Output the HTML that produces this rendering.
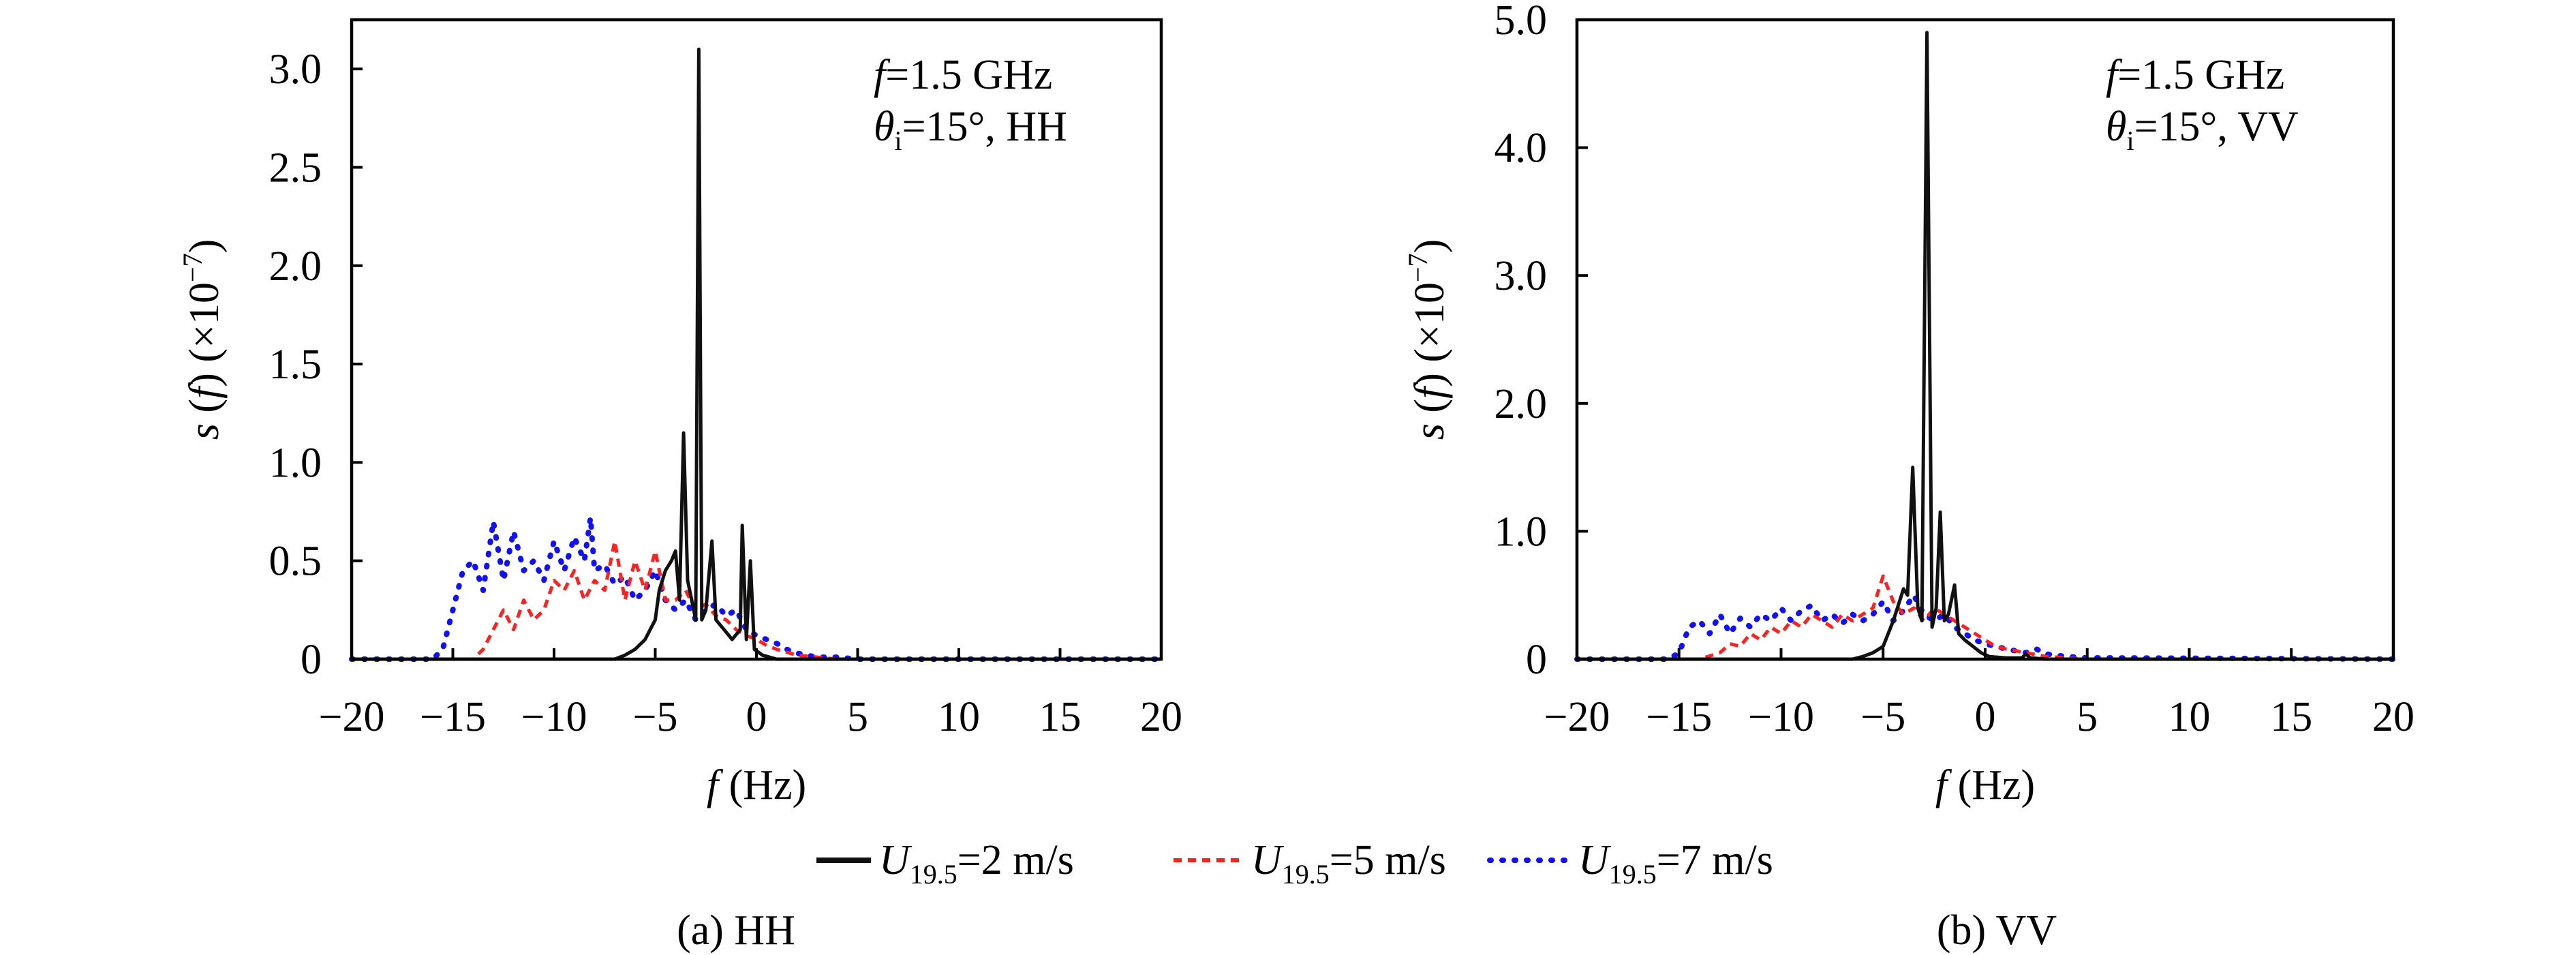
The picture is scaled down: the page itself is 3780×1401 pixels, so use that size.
<!DOCTYPE html>
<html><head><meta charset="utf-8">
<style>
html,body{margin:0;padding:0;background:#fff;}
svg{display:block;font-family:"Liberation Serif","DejaVu Serif",serif;}
</style></head>
<body>
<svg id="fig" width="3780" height="1401" viewBox="0 0 3780 1401" xmlns="http://www.w3.org/2000/svg"></svg>
<script>
// ---- data ----
const xTicks = [-20,-15,-10,-5,0,5,10,15,20];
const yTicksHH = [0,0.5,1.0,1.5,2.0,2.5,3.0];
const yTickLabelsHH = ["0","0.5","1.0","1.5","2.0","2.5","3.0"];
const yTicksVV = [0,1,2,3,4,5];
const yTickLabelsVV = ["0","1.0","2.0","3.0","4.0","5.0"];

const hh2x = [-20,-7,-6.5,-6,-5.5,-5,-4.8,-4.5,-4.2,-4.0,-3.8,-3.6,-3.4,-3.2,-3.0,-2.85,-2.7,-2.5,-2.2,-2.0,-1.6,-1.2,-0.8,-0.7,-0.5,-0.3,-0.1,0.3,1,20];
const hh2y = [0,0,0.02,0.05,0.1,0.2,0.35,0.45,0.5,0.55,0.3,1.15,0.4,0.3,0.2,3.1,0.2,0.25,0.6,0.2,0.15,0.1,0.15,0.68,0.1,0.5,0.05,0.02,0,0];
const hh5x = [-20,-14,-13.5,-13,-12.5,-12,-11.5,-11,-10.5,-10,-9.5,-9,-8.5,-8,-7.5,-7,-6.5,-6,-5.5,-5,-4.5,-4,-3.5,-3,-2.5,-2,-1.5,-1,-0.5,0,0.5,1,2,3,4,20];
const hh5y = [0,0,0.05,0.15,0.25,0.15,0.3,0.2,0.25,0.4,0.35,0.45,0.3,0.4,0.35,0.6,0.3,0.5,0.35,0.55,0.3,0.3,0.35,0.25,0.28,0.22,0.2,0.15,0.12,0.1,0.07,0.05,0.02,0.01,0,0];
const hh7x = [-20,-16,-15.5,-15,-14.5,-14,-13.5,-13,-12.5,-12,-11.5,-11,-10.5,-10,-9.5,-9,-8.5,-8.2,-8,-7.5,-7,-6.5,-6,-5.5,-5,-4.5,-4,-3.5,-3,-2.5,-2,-1.5,-1,-0.5,0,0.5,1,1.5,2,3,4,5,20];
const hh7y = [0,0,0.05,0.25,0.45,0.5,0.35,0.7,0.4,0.65,0.45,0.5,0.4,0.6,0.45,0.62,0.5,0.72,0.45,0.48,0.38,0.42,0.3,0.35,0.45,0.3,0.25,0.3,0.2,0.25,0.28,0.22,0.25,0.15,0.12,0.1,0.08,0.05,0.03,0.01,0.01,0,0];

const vv2x = [-20,-6.5,-6,-5.5,-5,-4.5,-4.2,-4,-3.8,-3.55,-3.3,-3.1,-2.85,-2.6,-2.4,-2.2,-2.0,-1.8,-1.5,-1.3,-1,-0.6,-0.2,0.2,1,1.8,2,2.2,3,20];
const vv2y = [0,0,0.02,0.05,0.1,0.3,0.45,0.55,0.5,1.5,0.4,0.3,4.9,0.25,0.4,1.15,0.3,0.35,0.58,0.2,0.15,0.1,0.05,0.02,0.01,0.01,0.04,0.01,0,0];
const vv5x = [-20,-14,-13,-12.5,-12,-11.5,-11,-10.5,-10,-9.5,-9,-8.5,-8,-7.5,-7,-6.5,-6,-5.5,-5,-4.5,-4,-3.5,-3,-2.5,-2,-1.5,-1,-0.5,0,0.5,1,2,3,4,5,20];
const vv5y = [0,0,0.05,0.12,0.1,0.2,0.15,0.25,0.2,0.3,0.25,0.35,0.3,0.25,0.35,0.3,0.35,0.4,0.65,0.45,0.35,0.4,0.3,0.4,0.35,0.3,0.25,0.2,0.15,0.1,0.08,0.05,0.02,0.01,0,0];
const vv7x = [-20,-15.5,-15,-14.5,-14,-13.5,-13,-12.5,-12,-11.5,-11,-10.5,-10,-9.5,-9,-8.5,-8,-7.5,-7,-6.5,-6,-5.5,-5,-4.5,-4,-3.5,-3,-2.5,-2,-1.5,-1,-0.5,0,0.5,1,2,2.5,3,4,5,6,20];
const vv7y = [0,0,0.05,0.25,0.3,0.2,0.35,0.2,0.32,0.25,0.35,0.3,0.4,0.3,0.38,0.42,0.3,0.35,0.28,0.35,0.3,0.35,0.45,0.3,0.38,0.5,0.35,0.3,0.35,0.25,0.2,0.15,0.12,0.1,0.08,0.05,0.08,0.04,0.02,0.01,0.01,0];

const NS = "http://www.w3.org/2000/svg";
const svg = document.getElementById('fig');
function mk(tag, attrs, parent, text){
  const e = document.createElementNS(NS, tag);
  for (const k in attrs) e.setAttribute(k, attrs[k]);
  if (text !== undefined) e.textContent = text;
  (parent||svg).appendChild(e);
  return e;
}

function panel(opt){
  const g = mk('g', {});
  
  
  const L=opt.L, R=opt.R, T=29, B=967;
  const sx = v => L + (v+20)/40*(R-L);
  const sy = v => B - v/opt.ymax*(B-T);
  const series = [
    {x:opt.s7x,y:opt.s7y,color:'#1010ff',w:8,dash:'2 16',cap:'round',name:'series-7ms'},
    {x:opt.s5x,y:opt.s5y,color:'#ff2020',w:5,dash:'12 9',cap:'butt',name:'series-5ms'},
    {x:opt.s2x,y:opt.s2y,color:'#111',w:5,dash:'none',cap:'butt',name:'series-2ms'}
  ];
  series.forEach(s=>{
    let d='';
    for(let i=0;i<s.x.length;i++) d += (i?'L':'M')+sx(s.x[i]).toFixed(1)+' '+sy(s.y[i]).toFixed(1);
    const p = mk('path',{d:d,fill:'none',stroke:s.color,'stroke-width':s.w,'stroke-dasharray':s.dash,'stroke-linecap':s.cap,'stroke-linejoin':'round'},g);
    
    
  });
  const fr = mk('rect',{x:L,y:T,width:R-L,height:B-T,fill:'none',stroke:'#000','stroke-width':4.5},g);
  
  
  xTicks.forEach(v=>{
    mk('line',{x1:sx(v),x2:sx(v),y1:B,y2:B-16,stroke:'#000','stroke-width':4},g);
    const t = mk('text',{x:sx(v),y:1072,'font-size':62,'text-anchor':'middle'},g,(v<0?'\u2212':'')+Math.abs(v));
    
    
  });
  opt.yt.forEach((v,i)=>{
    mk('line',{x1:L,x2:L+16,y1:sy(v),y2:sy(v),stroke:'#000','stroke-width':4},g);
    const t = mk('text',{x:L-44,y:sy(v)+21,'font-size':62,'text-anchor':'end'},g,opt.ytl[i]);
    
    
  });
  const xl = mk('text',{x:(L+R)/2,y:1172,'font-size':62,'text-anchor':'middle'},g);
  
  
  xl.innerHTML = '<tspan font-style="italic">f</tspan> (Hz)';
  const yl = mk('text',{x:0,y:0,'font-size':62,'text-anchor':'middle',transform:'translate('+(L-196)+' 498) rotate(-90)'},g);
  
  
  yl.innerHTML = '<tspan font-style="italic">s</tspan> (<tspan font-style="italic">f</tspan>) (×10<tspan font-size="40" dy="-24">−7</tspan><tspan dy="24">)</tspan>';
  const a1 = mk('text',{x:R-422,y:130,'font-size':62},g);
  
  
  a1.innerHTML = '<tspan font-style="italic">f</tspan>=1.5 GHz';
  const a2 = mk('text',{x:R-422,y:206,'font-size':62},g);
  
  
  a2.innerHTML = '<tspan font-style="italic">θ</tspan><tspan font-size="40" dy="14">i</tspan><tspan dy="-14">=15°, '+opt.pol+'</tspan>';
  const c = mk('text',{x:opt.capX,y:1385,'font-size':62,'text-anchor':'middle'},svg,opt.cap);
  
  
}

panel({name:'hh-panel',L:516,R:1704,ymax:3.25,yt:yTicksHH,ytl:yTickLabelsHH,pol:'HH',cap:'(a) HH',capX:1080,
  s2x:hh2x,s2y:hh2y,s5x:hh5x,s5y:hh5y,s7x:hh7x,s7y:hh7y});
panel({name:'vv-panel',L:2314,R:3512,ymax:5.0,yt:yTicksVV,ytl:yTickLabelsVV,pol:'VV',cap:'(b) VV',capX:2930,
  s2x:vv2x,s2y:vv2y,s5x:vv5x,s5y:vv5y,s7x:vv7x,s7y:vv7y});

// legend
const lg = mk('g',{});


const items = [
  {x1:1198,x2:1278,tx:1290,color:'#111',dash:'none',w:8,cap:'butt',val:'2'},
  {x1:1722,x2:1822,tx:1836,color:'#ff2020',dash:'12 9',w:6,cap:'butt',val:'5'},
  {x1:2186,x2:2300,tx:2316,color:'#1010ff',dash:'2 16',w:8,cap:'round',val:'7'}
];
items.forEach(it=>{
  const e = mk('g',{},lg);
  
  
  mk('line',{x1:it.x1,x2:it.x2,y1:1262,y2:1262,stroke:it.color,'stroke-width':it.w,'stroke-dasharray':it.dash,'stroke-linecap':it.cap},e);
  const t = mk('text',{x:it.tx,y:1282,'font-size':62},e);
  t.innerHTML = '<tspan font-style="italic">U</tspan><tspan font-size="40" dy="14">19.5</tspan><tspan dy="-14">='+it.val+' m/s</tspan>';
});
</script>
</body></html>
